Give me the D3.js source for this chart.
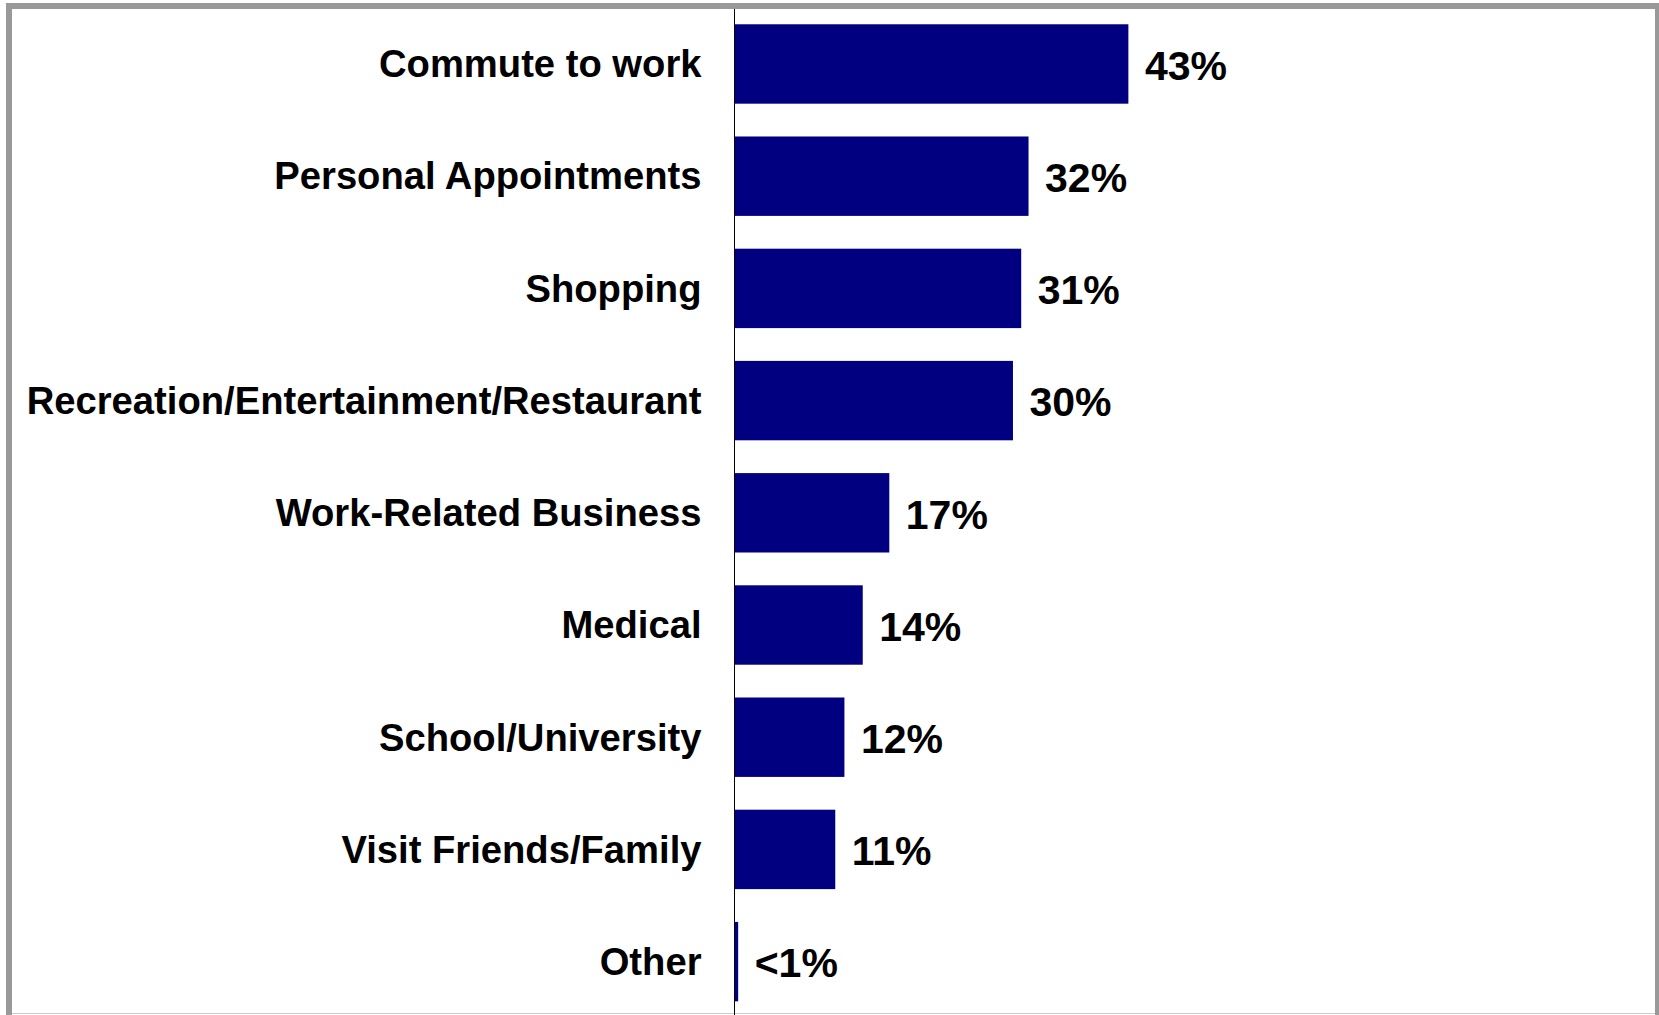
<!DOCTYPE html>
<html>
<head>
<meta charset="utf-8">
<script src="https://cdn.jsdelivr.net/npm/d3@7"></script>
<style>
  html, body { margin: 0; padding: 0; background: #fff; overflow: hidden; }
  svg { display: block; }
  text { font-family: "Liberation Sans", Arial, sans-serif; font-weight: bold; fill: #000; }
</style>
</head>
<body>
<svg id="chart" width="1659" height="1015"></svg>
<script>
const categories = [
  "Commute to work",
  "Personal Appointments",
  "Shopping",
  "Recreation/Entertainment/Restaurant",
  "Work-Related Business",
  "Medical",
  "School/University",
  "Visit Friends/Family",
  "Other"
];
const values = [43, 32.1, 31.3, 30.4, 16.9, 14, 12, 11, 0.4];
const valueLabels = ["43%", "32%", "31%", "30%", "17%", "14%", "12%", "11%", "<1%"];

const W = 1659, H = 1015;
const svg = d3.select("#chart");

// frame
svg.append("rect").attr("x", 0).attr("y", 0).attr("width", W).attr("height", H).attr("fill", "#fff");
svg.append("line").attr("x1", 6).attr("x2", W).attr("y1", 6).attr("y2", 6)
  .attr("stroke", "#999").attr("stroke-width", 6);
svg.append("line").attr("x1", 9).attr("x2", 9).attr("y1", 3).attr("y2", H)
  .attr("stroke", "#999").attr("stroke-width", 6);
svg.append("line").attr("x1", 1657).attr("x2", 1657).attr("y1", 3).attr("y2", H)
  .attr("stroke", "#999").attr("stroke-width", 4);
svg.append("line").attr("x1", 12).attr("x2", 1655).attr("y1", 1013.5).attr("y2", 1013.5)
  .attr("stroke", "#ccc").attr("stroke-width", 1);

const x = d3.scaleLinear().domain([0, 100]).range([734.5, 1650.5]);
const y = d3.scaleBand().domain(categories).range([7.9, 1017.7])
  .paddingInner(0.2923).paddingOuter(0.146);

const data = categories.map((c, i) => ({ c, v: values[i], label: valueLabels[i] }));

svg.append("g").selectAll("rect").data(data).join("rect")
  .attr("x", x(0))
  .attr("y", d => y(d.c))
  .attr("width", d => x(d.v) - x(0))
  .attr("height", y.bandwidth())
  .attr("fill", "#000080");

// axis line
svg.append("line").attr("x1", 734.5).attr("x2", 734.5).attr("y1", 9).attr("y2", H)
  .attr("stroke", "#000").attr("stroke-width", 1);

svg.append("g").selectAll("text").data(data).join("text")
  .attr("x", 701.5)
  .attr("y", d => y(d.c) + y.bandwidth() / 2 + 13.3)
  .attr("text-anchor", "end")
  .attr("font-size", "38.2px")
  .text(d => d.c);

svg.append("g").selectAll("text").data(data).join("text")
  .attr("x", d => x(d.v) + 16.5)
  .attr("y", d => y(d.c) + y.bandwidth() / 2 + 15.7)
  .attr("font-size", "41px")
  .text(d => d.label);
</script>
</body>
</html>
